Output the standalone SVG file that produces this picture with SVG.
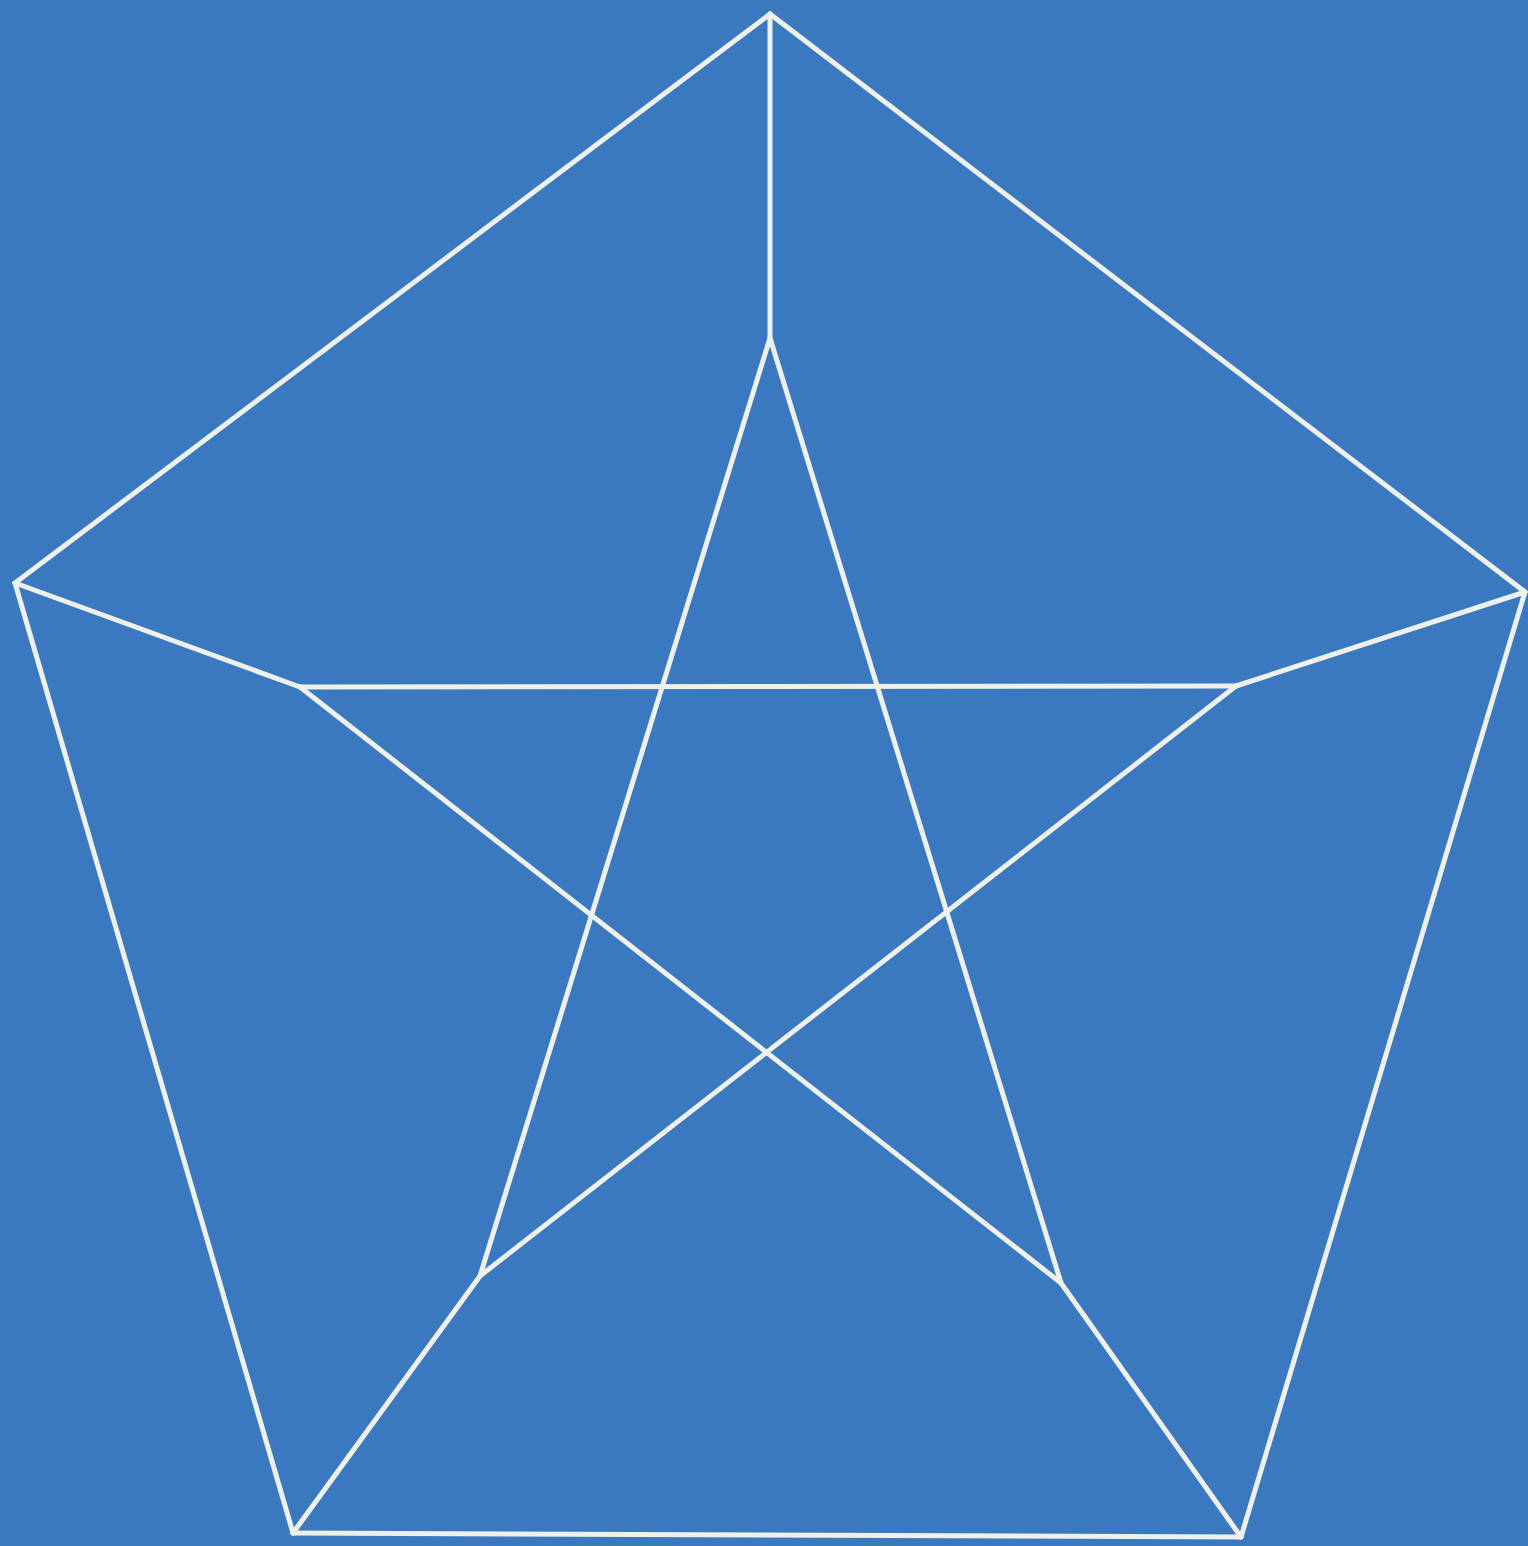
<svg xmlns="http://www.w3.org/2000/svg" width="1528" height="1546" viewBox="0 0 1528 1546">
<style>
.e{stroke:#eef0ea;stroke-width:5;stroke-linecap:round;stroke-linejoin:round;fill:none}
</style>
<rect width="1528" height="1546" fill="#3a78c0"/>
<g id="connectors" class="e">
<line x1="770" y1="14" x2="15" y2="583"/>
<line x1="770" y1="14" x2="1525" y2="592"/>
<line x1="15" y1="583" x2="293" y2="1533"/>
<line x1="1525" y1="592" x2="1241" y2="1537"/>
<line x1="293" y1="1533" x2="1241" y2="1537"/>
<line x1="770" y1="14" x2="770" y2="338"/>
<line x1="15" y1="583" x2="300" y2="687"/>
<line x1="1525" y1="592" x2="1236" y2="686"/>
<line x1="293" y1="1533" x2="480" y2="1276"/>
<line x1="1241" y1="1537" x2="1061" y2="1283"/>
<line x1="770" y1="338" x2="480" y2="1276"/>
<line x1="770" y1="338" x2="1061" y2="1283"/>
<line x1="300" y1="687" x2="1236" y2="686"/>
<line x1="300" y1="687" x2="1061" y2="1283"/>
<line x1="1236" y1="686" x2="480" y2="1276"/>
</g>
<g id="n0"><circle cx="770" cy="14" r="0"/></g>
<g id="n1"><circle cx="15" cy="583" r="0"/></g>
<g id="n2"><circle cx="1525" cy="592" r="0"/></g>
<g id="n3"><circle cx="293" cy="1533" r="0"/></g>
<g id="n4"><circle cx="1241" cy="1537" r="0"/></g>
<g id="n5"><circle cx="770" cy="338" r="0"/></g>
<g id="n6"><circle cx="300" cy="687" r="0"/></g>
<g id="n7"><circle cx="1236" cy="686" r="0"/></g>
<g id="n8"><circle cx="480" cy="1276" r="0"/></g>
<g id="n9"><circle cx="1061" cy="1283" r="0"/></g>
</svg>
